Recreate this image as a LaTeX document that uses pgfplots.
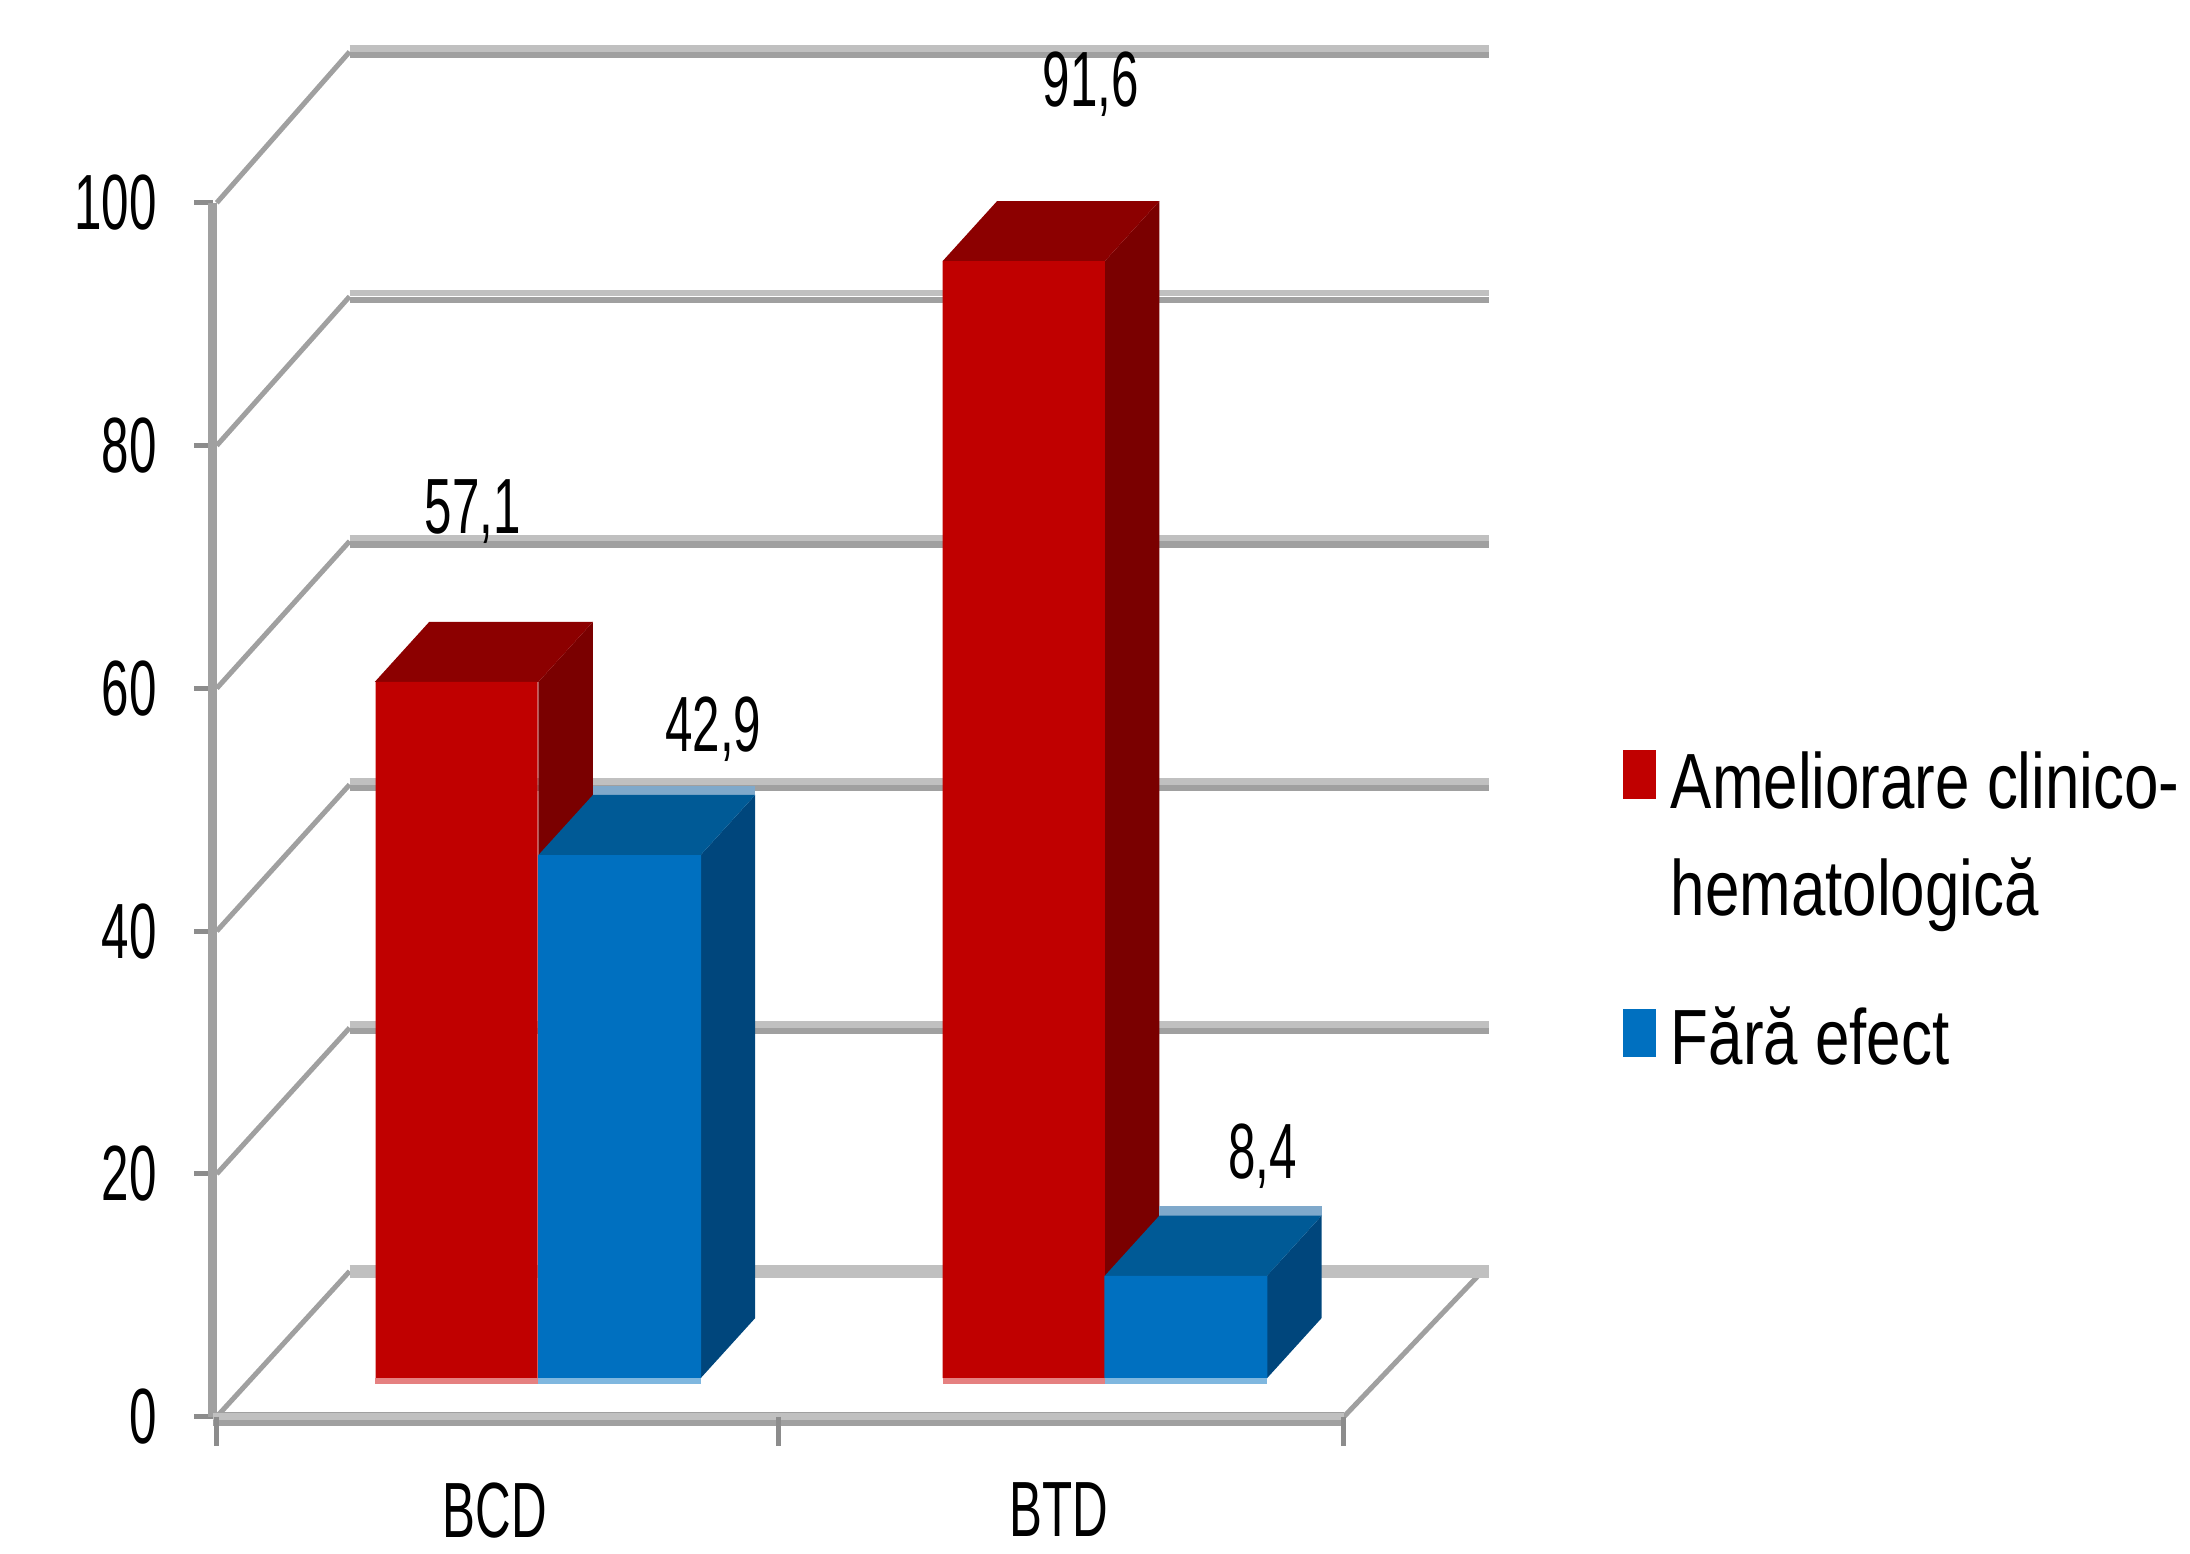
\documentclass[border=0pt]{standalone}
\usepackage{fontspec}
\setmainfont{Liberation Sans}
\newfontfamily\numfont[FakeStretch=0.63]{Liberation Sans}
\newfontfamily\legfont[FakeStretch=0.79]{Liberation Sans}
\usepackage{pgfplots}
\pgfplotsset{compat=1.18}
\definecolor{gridlight}{HTML}{C0C0C0}
\definecolor{griddark}{HTML}{A0A0A0}
\definecolor{tickgray}{HTML}{8C8C8C}
\definecolor{red1}{HTML}{C00000}
\definecolor{red2}{HTML}{8C0000}
\definecolor{red3}{HTML}{7A0000}
\definecolor{red4}{HTML}{E58080}
\definecolor{blue1}{HTML}{0070C0}
\definecolor{blue2}{HTML}{005A96}
\definecolor{blue3}{HTML}{00467C}
\definecolor{blue4}{HTML}{7FB7DF}
\definecolor{blue5}{HTML}{7FA9CB}
\pgfplotstableread{
x v
326.5 57.1
732 91.6
}\redbars
\pgfplotstableread{
x v
443 42.9
848 8.4
}\bluebars
\begin{document}
\begin{tikzpicture}
\path[use as bounding box] (0pt,0pt) rectangle (783pt,555.25pt);
% frame: axes, back wall and grid; 1 unit of x = 1 px of the 1566 wide view
\begin{axis}[
  at={(76pt,48.75pt)}, anchor=south west,
  scale only axis, width=404.5pt, height=434pt,
  xmin=152, xmax=961, ymin=0, ymax=100,
  clip=false,
  axis x line*=bottom, axis y line*=left,
  axis line style={griddark,line width=3.2pt,-},
  xtick={155,557,961}, xticklabels={BCD,BTD},
  x tick label as interval,
  ytick={0,20,40,60,80,100},
  tick align=outside, major tick length=6.5pt,
  tick style={tickgray,line width=1.8pt},
  /pgf/number format/assume math mode=true,
  ticklabel style={font=\fontsize{28}{30}\selectfont\numfont},
  yticklabel style={xshift=-10pt},
  xticklabel style={yshift=-13.5pt,xshift=-1pt},
]
\addplot[griddark,line width=1.8pt] coordinates {(155,0)(250,11.98)};
\addplot[griddark,line width=1.8pt] coordinates {(155,20)(250,32.03)};
\addplot[griddark,line width=1.8pt] coordinates {(155,40)(250,52.07)};
\addplot[griddark,line width=1.8pt] coordinates {(155,60)(250,72.12)};
\addplot[griddark,line width=1.8pt] coordinates {(155,80)(250,92.28)};
\addplot[griddark,line width=1.8pt] coordinates {(155,100)(250,112.44)};
\addplot[griddark,line width=1.8pt] coordinates {(961,0)(1060,11.98)};
\addplot[gridlight,line width=4.6pt] coordinates {(250,11.98)(1065,11.98)};
\addplot[gridlight,line width=2.3pt] coordinates {(250,32.30)(1065,32.30)};
\addplot[griddark,line width=2.3pt] coordinates {(250,31.76)(1065,31.76)};
\addplot[gridlight,line width=2.3pt] coordinates {(250,52.34)(1065,52.34)};
\addplot[griddark,line width=2.3pt] coordinates {(250,51.80)(1065,51.80)};
\addplot[gridlight,line width=2.3pt] coordinates {(250,72.39)(1065,72.39)};
\addplot[griddark,line width=2.3pt] coordinates {(250,71.85)(1065,71.85)};
\addplot[gridlight,line width=2.3pt] coordinates {(250,92.55)(1065,92.55)};
\addplot[griddark,line width=2.3pt] coordinates {(250,92.01)(1065,92.01)};
\addplot[gridlight,line width=2.3pt] coordinates {(250,112.71)(1065,112.71)};
\addplot[griddark,line width=2.3pt] coordinates {(250,112.17)(1065,112.17)};
\addplot[gridlight,line width=2.3pt] coordinates {(152,0.0)(961,0.0)};
\addplot[griddark,line width=2.3pt] coordinates {(152,-0.5)(961,-0.5)};
% x ticks run longer than the y ticks
\addplot[tickgray,line width=1.8pt] coordinates {(155,0)(155,-2.4)};
\addplot[tickgray,line width=1.8pt] coordinates {(557,0)(557,-2.4)};
\addplot[tickgray,line width=1.8pt] coordinates {(961,0)(961,-2.4)};
\end{axis}
% bars: base of the bars sits on y=985 of the view
\begin{axis}[
  at={(0pt,62.5pt)}, anchor=south west,
  scale only axis, width=783pt, height=436pt,
  xmin=0, xmax=1566, ymin=0, ymax=100,
  hide axis, clip=false,
  legend style={draw=none,fill=none,at={(0.7407,0.519)},anchor=north west,
    legend cell align=left,row sep=27pt,inner sep=0pt,
    font=\fontsize{28}{38.5}\selectfont\legfont,
    cells={align=left}},
  legend image code/.code={\fill[#1] (0pt,-8.5pt) rectangle (11.5pt,8.5pt); \path[draw=none,fill=none] (0pt,0pt) -- (15pt,0pt);},
]
\addlegendimage{red1,yshift=22pt}\addlegendentry{Ameliorare clinico-\\hematologică}
\addlegendimage{blue1,yshift=1.75pt}\addlegendentry{Fără efect}
% BCD, red
\addplot[forget plot,fill=red3,draw=none] coordinates {(385,0)(385,57.1)(424,62.03)(424,4.93)} -- cycle;
\addplot[forget plot,fill=red2,draw=none] coordinates {(268,57.1)(307,62.03)(424,62.03)(385,57.1)} -- cycle;
% BTD, red
\addplot[forget plot,fill=red3,draw=none] coordinates {(790,0)(790,91.6)(829,96.53)(829,4.93)} -- cycle;
\addplot[forget plot,fill=red2,draw=none] coordinates {(674,91.6)(713,96.53)(829,96.53)(790,91.6)} -- cycle;
% BCD, blue
\addplot[forget plot,fill=blue5,draw=none] coordinates {(424,47.83)(540,47.83)(540,48.6)(424,48.6)} -- cycle;
\addplot[forget plot,fill=blue3,draw=none] coordinates {(501,0)(501,42.9)(540,47.83)(540,4.93)} -- cycle;
\addplot[forget plot,fill=blue2,draw=none] coordinates {(385,42.9)(424,47.83)(540,47.83)(501,42.9)} -- cycle;
% BTD, blue
\addplot[forget plot,fill=blue5,draw=none] coordinates {(829,13.33)(945,13.33)(945,14.1)(829,14.1)} -- cycle;
\addplot[forget plot,fill=blue3,draw=none] coordinates {(906,0)(906,8.4)(945,13.33)(945,4.93)} -- cycle;
\addplot[forget plot,fill=blue2,draw=none] coordinates {(790,8.4)(829,13.33)(945,13.33)(906,8.4)} -- cycle;
% front faces
\addplot[forget plot,ybar,bar width=58pt,fill=red1,draw=none] table {\redbars};
\addplot[forget plot,ybar,bar width=58.3pt,fill=blue1,draw=none] table {\bluebars};
% pale strip under the bars
\addplot[forget plot,fill=red4,draw=none] coordinates {(268,0)(385,0)(385,-0.45)(268,-0.45)} -- cycle;
\addplot[forget plot,fill=blue4,draw=none] coordinates {(385,0)(501,0)(501,-0.45)(385,-0.45)} -- cycle;
\addplot[forget plot,fill=red4,draw=none] coordinates {(674,0)(790,0)(790,-0.45)(674,-0.45)} -- cycle;
\addplot[forget plot,fill=blue4,draw=none] coordinates {(790,0)(906,0)(906,-0.45)(790,-0.45)} -- cycle;
% value labels
\node[font=\fontsize{28}{30}\selectfont\numfont] at (axis cs:338,71.1) {57,1};
\node[font=\fontsize{28}{30}\selectfont\numfont] at (axis cs:510,53.2) {42,9};
\node[font=\fontsize{28}{30}\selectfont\numfont] at (axis cs:780,106.1) {91,6};
\node[font=\fontsize{28}{30}\selectfont\numfont] at (axis cs:903,18.2) {8,4};
\end{axis}
\end{tikzpicture}
\end{document}
